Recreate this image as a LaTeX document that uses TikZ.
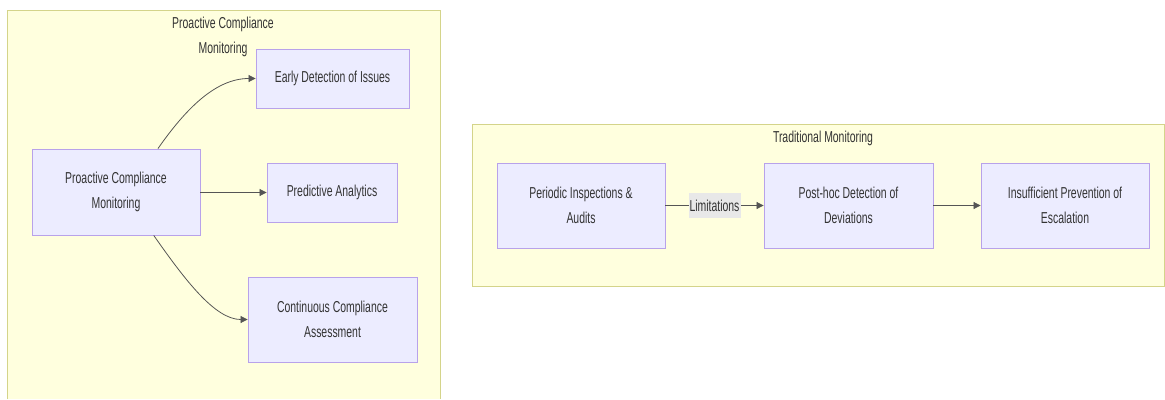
\documentclass[tikz,border=0pt]{standalone}
\usepackage{fontspec}
\newfontfamily\nf[FakeStretch=0.66]{Liberation Sans}
\usetikzlibrary{arrows.meta}
\definecolor{clfill}{HTML}{FFFFDE}
\definecolor{clborder}{HTML}{D4D48A}
\definecolor{bfill}{HTML}{ECECFF}
\definecolor{bborder}{HTML}{B8A2EA}
\definecolor{txt}{HTML}{333333}
\definecolor{edge}{HTML}{555555}
\definecolor{lblfill}{HTML}{E8E8E8}
\tikzset{
  box/.style={draw=bborder, fill=bfill, line width=0.5pt, align=center, text=txt,
    font=\nf\fontsize{9}{14.6}\selectfont, inner sep=0pt},
  clfillst/.style={fill=clfill},
  cldrawst/.style={draw=clborder, line width=0.5pt},
  ttl/.style={text=txt, font=\nf\fontsize{9}{14.6}\selectfont, align=center, inner sep=0pt},
  conn/.style={draw=edge, line width=0.45pt, -{Triangle[length=4pt,width=4pt]}},
  lbl/.style={fill=lblfill, text=txt, font=\nf\fontsize{9}{14.6}\selectfont, inner sep=0pt,
    minimum width=1.04cm, minimum height=0.5cm}
}
\begin{document}
\begin{tikzpicture}[x=0.02cm,y=-0.02cm]
\useasboundingbox (0,0) rectangle (1165,399);
% clusters
\fill[clfillst] (7,10) rectangle (440,399);
\draw[cldrawst] (7,399) -- (7,10) -- (440,10) -- (440,399);
\path[clfillst, cldrawst] (472,124) rectangle (1164,286);
\node[ttl] (t1) at (223,37) {Proactive Compliance\\Monitoring};
\node[ttl] (t2) at (823,138) {Traditional Monitoring};
% left nodes
\node[box, minimum width=3.36cm, minimum height=1.72cm] (main) at (116,192) {Proactive Compliance\\Monitoring};
\node[box, minimum width=3.06cm, minimum height=1.18cm] (early) at (332.5,78.5) {Early Detection of Issues};
\node[box, minimum width=2.6cm, minimum height=1.18cm] (pred) at (332,192.5) {Predictive Analytics};
\node[box, minimum width=3.38cm, minimum height=1.7cm] (cont) at (332.5,319.5) {Continuous Compliance\\Assessment};
% right nodes
\node[box, minimum width=3.36cm, minimum height=1.7cm] (peri) at (581,205.5) {Periodic Inspections \&\\Audits};
\node[box, minimum width=3.38cm, minimum height=1.7cm] (post) at (848.5,205.5) {Post-hoc Detection of\\Deviations};
\node[box, minimum width=3.36cm, minimum height=1.7cm] (insu) at (1065,205.5) {Insufficient Prevention of\\Escalation};
% connectors
\draw[conn] (main.46) .. controls (185,110) and (215,78.5) .. (early.west);
\draw[conn] (main.east |- pred.west) -- (pred.west);
\draw[conn] (main.311) .. controls (185,280) and (215,319.5) .. (cont.west);
\draw[conn] (peri.east) -- node[lbl] (lim) {Limitations} (post.west);
\draw[conn] (post.east) -- (insu.west);
\end{tikzpicture}
\end{document}
